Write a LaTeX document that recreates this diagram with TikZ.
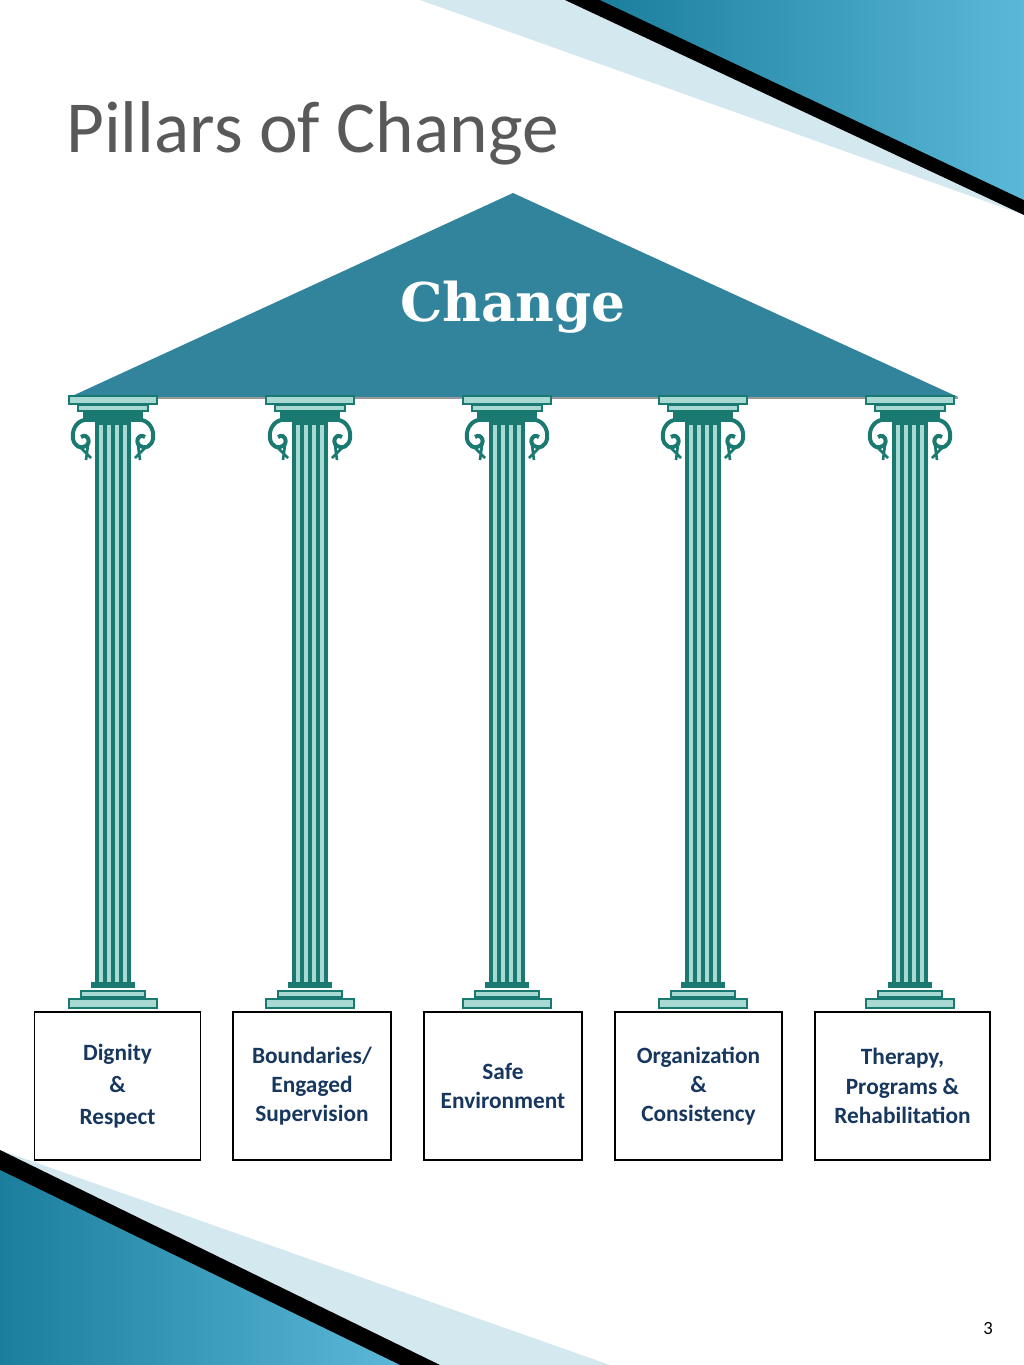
\documentclass[tikz,border=0pt]{standalone}
\usepackage{fontspec}
\setmainfont{Carlito}
\newfontfamily\heavy{DejaVu Serif}
\definecolor{roof}{HTML}{31849B}
\definecolor{pil}{HTML}{1A7A72}
\definecolor{pill}{HTML}{A8DAD3}
\definecolor{txt}{HTML}{17375E}
\definecolor{tealA}{HTML}{1B7E9C}
\definecolor{tealB}{HTML}{5BB8D8}
\definecolor{ltb}{HTML}{D4E8F0}
\tikzset{
 lbl/.style={draw=black,line width=1.2pt,fill=white,align=center,font=\bfseries\fontsize{17.5}{22}\selectfont,text=txt,inner sep=0pt},
 plate/.style={fill=pill,draw=pil,line width=1pt}
}
\begin{document}
\begin{tikzpicture}[x=0.75pt,y=-0.75pt]
\useasboundingbox (0,0) rectangle (1024,1365);
% corners
\fill[ltb] (420,0) -- (1024,0) -- (1024,215) -- cycle;
\fill[black] (565,0) -- (1024,0) -- (1024,215) -- cycle;
\shade[left color=tealA,right color=tealB] (600,0) -- (1024,0) -- (1024,200) -- cycle;
\fill[ltb] (0,1150) -- (610,1365) -- (0,1365) -- cycle;
\fill[black] (0,1150) -- (440,1365) -- (0,1365) -- cycle;
\shade[left color=tealA,right color=tealB] (0,1170) -- (400,1365) -- (0,1365) -- cycle;
% title
\node (title) [text=black!65,font=\fontsize{55}{60}\selectfont,anchor=west,inner sep=0pt] at (66,133) {Pillars of Change};
% roof
\fill[roof] (513,193) -- (958,397) -- (70,397) -- cycle;
\draw[black!40,line width=1.5pt] (70,398) -- (958,398);
\node (roof) [text=white,font=\heavy\bfseries\fontsize{40}{44}\selectfont] at (513,307) {Change};
% pillars
\foreach \c/\n in {113/p1,310/p2,507/p3,703/p4,910/p5}{
 \begin{scope}[shift={(\c,0)}]
  \fill[pil] (-18,418) rectangle (18,985);
  \foreach \s in {-12,-4,4,12} \fill[pill] (\s-2,425) rectangle (\s+2,982);
  \draw[plate] (-44,396) rectangle (44,404);
  \draw[plate] (-35,405) rectangle (35,411);
  \fill[pil] (-30,412) rectangle (30,422);
  \draw[pil,line width=3pt] (-20,420) .. controls (-45,415) and (-45,450) .. (-30,447) .. controls (-20,445) and (-25,432) .. (-32,437);
  \draw[pil,line width=3pt] (20,420) .. controls (45,415) and (45,450) .. (30,447) .. controls (20,445) and (25,432) .. (32,437);
  \draw[pil,line width=2pt] (-32,448) -- (-22,458) (-25,445) -- (-27,460);
  \draw[pil,line width=2pt] (32,448) -- (22,458) (25,445) -- (27,460);
  \fill[pil] (-22,982) rectangle (22,988);
  \draw[plate] (-32,991) rectangle (32,997);
  \draw[plate] (-44,999) rectangle (44,1008);
  \coordinate (\n) at (0,1008);
 \end{scope}}
% boxes
\node (b1) [lbl,minimum width=166*0.75pt,minimum height=148*0.75pt] at (117.5,1086) {Dignity\\[2pt]\&\\[2pt]Respect};
\node (b2) [lbl,minimum width=158*0.75pt,minimum height=148*0.75pt] at (312,1086) {Boundaries/\\Engaged\\Supervision};
\node (b3) [lbl,minimum width=158*0.75pt,minimum height=148*0.75pt] at (503,1086) {Safe\\Environment};
\node (b4) [lbl,minimum width=167*0.75pt,minimum height=148*0.75pt] at (698.5,1086) {Organization\\\&\\Consistency};
\node (b5) [lbl,minimum width=175*0.75pt,minimum height=148*0.75pt] at (902.5,1086) {Therapy,\\Programs \&\\Rehabilitation};
\node (pg) [font=\fontsize{14}{16}\selectfont] at (988,1328) {3};
\end{tikzpicture}
\end{document}
